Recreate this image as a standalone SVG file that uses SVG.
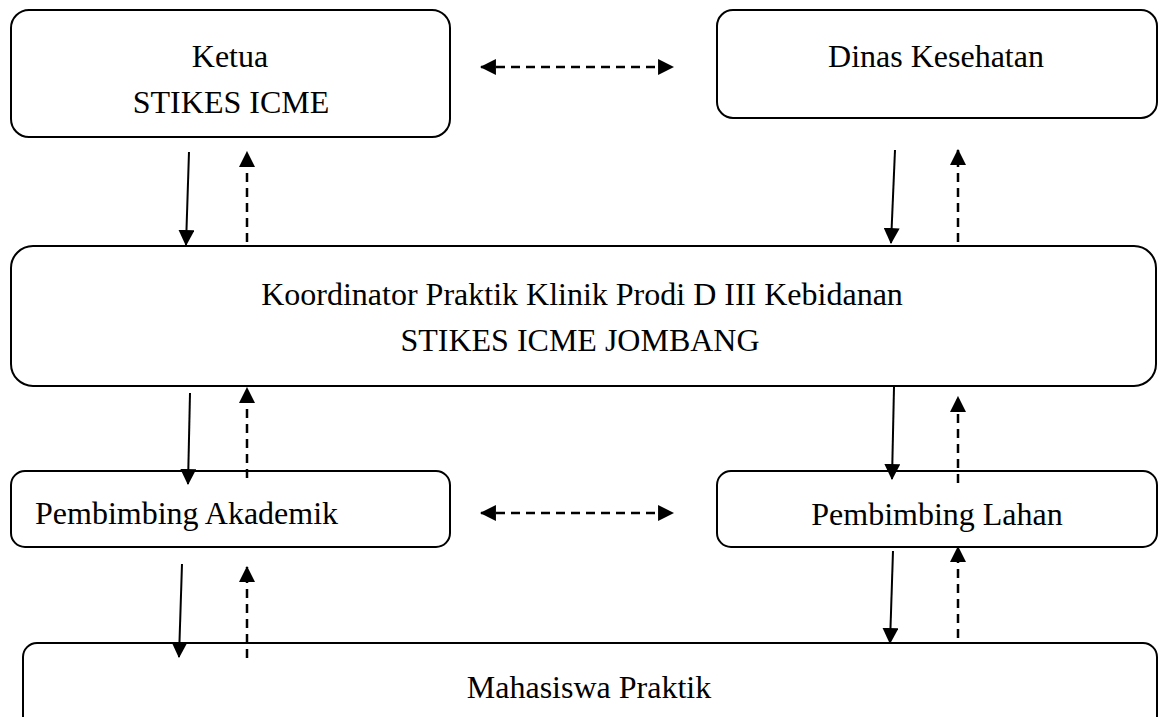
<svg xmlns="http://www.w3.org/2000/svg" width="1159" height="717" viewBox="0 0 1159 717">
  <style>
    .box { fill: #ffffff; stroke: #000000; stroke-width: 2; }
    .t { font-family: "Liberation Serif", "Times New Roman", serif; font-size: 32px; fill: #000000; }
    .c { text-anchor: middle; }
    .solid { stroke: #000000; stroke-width: 2; fill: none; }
    .dash { stroke: #000000; stroke-width: 2.5; fill: none; stroke-dasharray: 9 6; }
  </style>
  <defs>
    <marker id="ah" markerUnits="userSpaceOnUse" markerWidth="16" markerHeight="16" viewBox="0 0 15 15" refX="14" refY="7.5" orient="auto">
      <path d="M0,0 L15,7.5 L0,15 z" fill="#000000"/>
    </marker>
    <marker id="ahs" markerUnits="userSpaceOnUse" markerWidth="16" markerHeight="16" viewBox="0 0 15 15" refX="1" refY="7.5" orient="auto">
      <path d="M15,0 L0,7.5 L15,15 z" fill="#000000"/>
    </marker>
  </defs>

  <g id="node-ketua">
    <rect class="box" x="11" y="10" width="439" height="127" rx="18" ry="18"/>
    <text class="t c" x="230" y="67">Ketua</text>
    <text class="t c" x="231" y="113">STIKES ICME</text>
  </g>

  <g id="node-dinas">
    <rect class="box" x="717" y="10" width="440" height="108" rx="16" ry="16"/>
    <text class="t c" x="936" y="67">Dinas Kesehatan</text>
  </g>

  <g id="node-koordinator">
    <rect class="box" x="11" y="246" width="1145" height="140" rx="22" ry="22"/>
    <text class="t c" x="582" y="305">Koordinator Praktik Klinik Prodi D III Kebidanan</text>
    <text class="t c" x="580" y="351">STIKES ICME JOMBANG</text>
  </g>

  <g id="node-akademik">
    <rect class="box" x="11" y="471" width="439" height="76" rx="14" ry="14"/>
    <text class="t" x="35" y="524">Pembimbing Akademik</text>
  </g>

  <g id="node-lahan">
    <rect class="box" x="717" y="471" width="440" height="76" rx="14" ry="14"/>
    <text class="t c" x="937" y="525">Pembimbing Lahan</text>
  </g>

  <g id="node-mahasiswa">
    <rect class="box" x="23" y="643" width="1134" height="110" rx="14" ry="14"/>
    <text class="t c" x="589" y="698">Mahasiswa Praktik</text>
  </g>

  <g id="connectors">
    <line class="dash" x1="481" y1="67" x2="673" y2="67" marker-start="url(#ahs)" marker-end="url(#ah)"/>
    <line class="dash" x1="481" y1="513" x2="673" y2="513" marker-start="url(#ahs)" marker-end="url(#ah)"/>

    <line class="solid" x1="189" y1="152" x2="186" y2="245" marker-end="url(#ah)"/>
    <line class="dash" x1="247" y1="242" x2="247" y2="152" marker-end="url(#ah)"/>

    <line class="solid" x1="895" y1="150" x2="891" y2="243" marker-end="url(#ah)"/>
    <line class="dash" x1="958" y1="242" x2="958" y2="150" marker-end="url(#ah)"/>

    <line class="solid" x1="190" y1="393" x2="188" y2="484" marker-end="url(#ah)"/>
    <line class="dash" x1="247" y1="478" x2="247" y2="388" marker-end="url(#ah)"/>

    <line class="solid" x1="894" y1="387" x2="892" y2="479" marker-end="url(#ah)"/>
    <line class="dash" x1="958" y1="483" x2="958" y2="397" marker-end="url(#ah)"/>

    <line class="solid" x1="182" y1="564" x2="179" y2="657" marker-end="url(#ah)"/>
    <line class="dash" x1="247" y1="658" x2="247" y2="567" marker-end="url(#ah)"/>

    <line class="solid" x1="893" y1="551" x2="890" y2="643" marker-end="url(#ah)"/>
    <line class="dash" x1="958" y1="638" x2="958" y2="547" marker-end="url(#ah)"/>
  </g>
</svg>
